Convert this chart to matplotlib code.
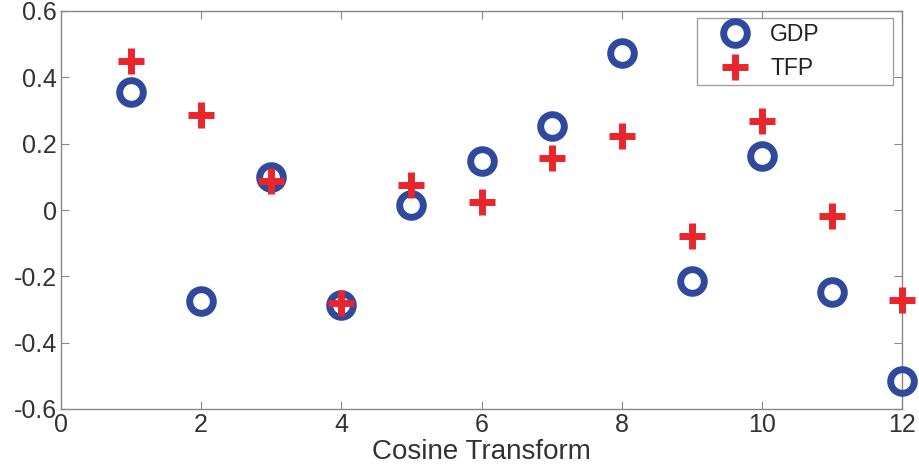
import matplotlib
matplotlib.use("Agg")
import matplotlib.pyplot as plt
import numpy as np

plt.rcParams['font.family'] = ['Liberation Sans', 'DejaVu Sans']

index = np.arange(1, 13)
gdp = [0.356, -0.274, 0.100, -0.286, 0.015, 0.148, 0.253, 0.473, -0.214, 0.163, -0.247, -0.516]
tfp = [0.449, 0.286, 0.087, -0.280, 0.075, 0.024, 0.157, 0.223, -0.078, 0.268, -0.018, -0.271]

fig = plt.figure(figsize=(9.19, 4.72), dpi=100)
ax = fig.add_axes([61 / 919, 1 - 409 / 472, 841 / 919, 398 / 472])

ax.plot(index, gdp, linestyle='none', marker='o', markersize=17, markeredgewidth=5,
        markerfacecolor='none', markeredgecolor='#2f4a9c', label='GDP', clip_on=False, zorder=3)
ax.plot(index, tfp, linestyle='none', marker='+', markersize=19, markeredgewidth=5,
        color='#e8262b', label='TFP', clip_on=False, zorder=4)

ax.set_xlim(0, 12)
ax.set_ylim(-0.6, 0.6)
ax.set_xticks(np.arange(0, 13, 2))
ax.set_yticks(np.arange(-0.6, 0.61, 0.2))
ax.set_yticklabels(['-0.6', '-0.4', '-0.2', '0', '0.2', '0.4', '0.6'])
ax.tick_params(direction='in', length=6, color='#888888', labelsize=18, top=True, right=True,
               labelcolor='#333333', pad=3)
for s in ax.spines.values():
    s.set_color('#888888')
    s.set_linewidth(1.0)
ax.set_xlabel('Cosine Transform', fontsize=20, color='#333333', labelpad=1)

# legend box spans roughly 697..893 px horizontally, top at 18 px
leg = ax.legend(loc='upper left', bbox_to_anchor=(0.756, 0.982, 0.233, 0), mode='expand',
                fontsize=16.5, frameon=True, fancybox=False, edgecolor='#888888',
                handlelength=2.9, borderpad=0.2, labelspacing=0.5, handletextpad=0.1,
                borderaxespad=0)
leg.get_frame().set_linewidth(1.0)
for t in leg.get_texts():
    t.set_color('#222222')

fig.savefig('out.png', dpi=100)
